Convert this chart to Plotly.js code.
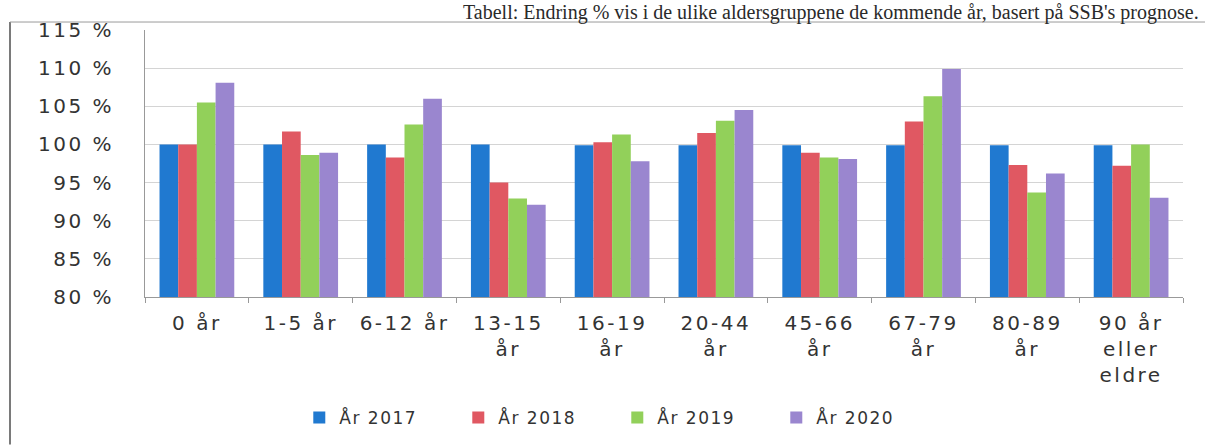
<!DOCTYPE html>
<html>
<head>
<meta charset="utf-8">
<script src="https://cdn.plot.ly/plotly-3.0.1.min.js"></script>
<style>
  html, body { margin: 0; padding: 0; background: #fff; }
  #chart { width: 1205px; height: 446px; }
  .xtick text, .ytick text { letter-spacing: 2.5px; }
  .legendtext { letter-spacing: 1.5px; }
</style>
</head>
<body>
<div id="chart"></div>
<script>
const categories = ["0 år", "1-5 år", "6-12 år", "13-15<br>år", "16-19<br>år", "20-44<br>år", "45-66<br>år", "67-79<br>år", "80-89<br>år", "90 år<br>eller<br>eldre"];
const seriesNames = ["År 2017", "År 2018", "År 2019", "År 2020"];
const y2017 = [100.0, 100.0, 100.0, 100.0, 99.9, 99.9, 99.9, 99.9, 99.9, 99.9];
const y2018 = [100.0, 101.7, 98.3, 95.0, 100.3, 101.5, 98.9, 103.0, 97.3, 97.2];
const y2019 = [105.5, 98.6, 102.6, 92.9, 101.3, 103.1, 98.3, 106.3, 93.7, 100.0];
const y2020 = [108.1, 98.9, 106.0, 92.1, 97.8, 104.5, 98.1, 109.9, 96.2, 93.0];
const yTicks = [80, 85, 90, 95, 100, 105, 110, 115];
const headerText = "Tabell: Endring % vis i de ulike aldersgruppene de kommende år, basert på SSB's prognose.";

const colors = ["#2079d0", "#e05862", "#92d05a", "#9a86cf"];
const allY = [y2017, y2018, y2019, y2020];

const traces = allY.map((ys, i) => ({
  type: "bar",
  name: seriesNames[i],
  x: categories,
  y: ys,
  marker: { color: colors[i] },
  hoverinfo: "none"
}));

const W = 1205, H = 446;
const m = { l: 145, r: 22, t: 30, b: 148 };
const pw = W - m.l - m.r, ph = H - m.t - m.b;
const px = (p) => (p - m.l) / pw;
const py = (p) => (H - m.b - p) / ph;

const layout = {
  width: W, height: H,
  margin: m,
  paper_bgcolor: "#ffffff",
  plot_bgcolor: "#ffffff",
  font: { family: "DejaVu Sans, Verdana, sans-serif", color: "#333333", size: 20 },
  barmode: "group",
  bargap: 0.28,
  bargroupgap: 0,
  showlegend: true,
  legend: {
    orientation: "h",
    x: 0.455, xanchor: "center",
    y: py(418), yanchor: "middle",
    font: { size: 17, color: "#333333" },
    entrywidth: 114, entrywidthmode: "pixels",
    itemwidth: 30,
    traceorder: "normal"
  },
  xaxis: {
    type: "category",
    tickson: "boundaries",
    ticks: "outside",
    ticklen: 5,
    tickcolor: "#999",
    showline: true,
    linecolor: "#999",
    linewidth: 1,
    showgrid: false,
    tickfont: { size: 20, color: "#333333" },
    ticklabelstandoff: 8,
    fixedrange: true
  },
  yaxis: {
    range: [80, 115],
    tickvals: yTicks,
    ticktext: yTicks.map(v => v + " %"),
    showline: true,
    linecolor: "#999",
    linewidth: 1,
    showgrid: true,
    gridcolor: "#d4d4d4",
    gridwidth: 1,
    zeroline: false,
    ticks: "",
    tickfont: { size: 20, color: "#333333" },
    ticklabelstandoff: 26,
    fixedrange: true
  },
  shapes: [
    { type: "line", xref: "paper", yref: "paper", x0: px(10), x1: px(10), y0: py(22), y1: py(446), line: { color: "#7a7a7a", width: 2 } },
    { type: "line", xref: "paper", yref: "paper", x0: px(10), x1: px(1205), y0: py(22), y1: py(22), line: { color: "#9a9a9a", width: 1 } }
  ],
  annotations: [
    {
      text: headerText,
      xref: "paper", yref: "paper",
      x: px(1200), xanchor: "right",
      y: py(0), yanchor: "top",
      showarrow: false,
      borderpad: 0,
      font: { family: "Liberation Serif, serif", size: 20, color: "#2a2a2a" }
    }
  ]
};

Plotly.newPlot("chart", traces, layout, { displayModeBar: false, staticPlot: true });
</script>
</body>
</html>
